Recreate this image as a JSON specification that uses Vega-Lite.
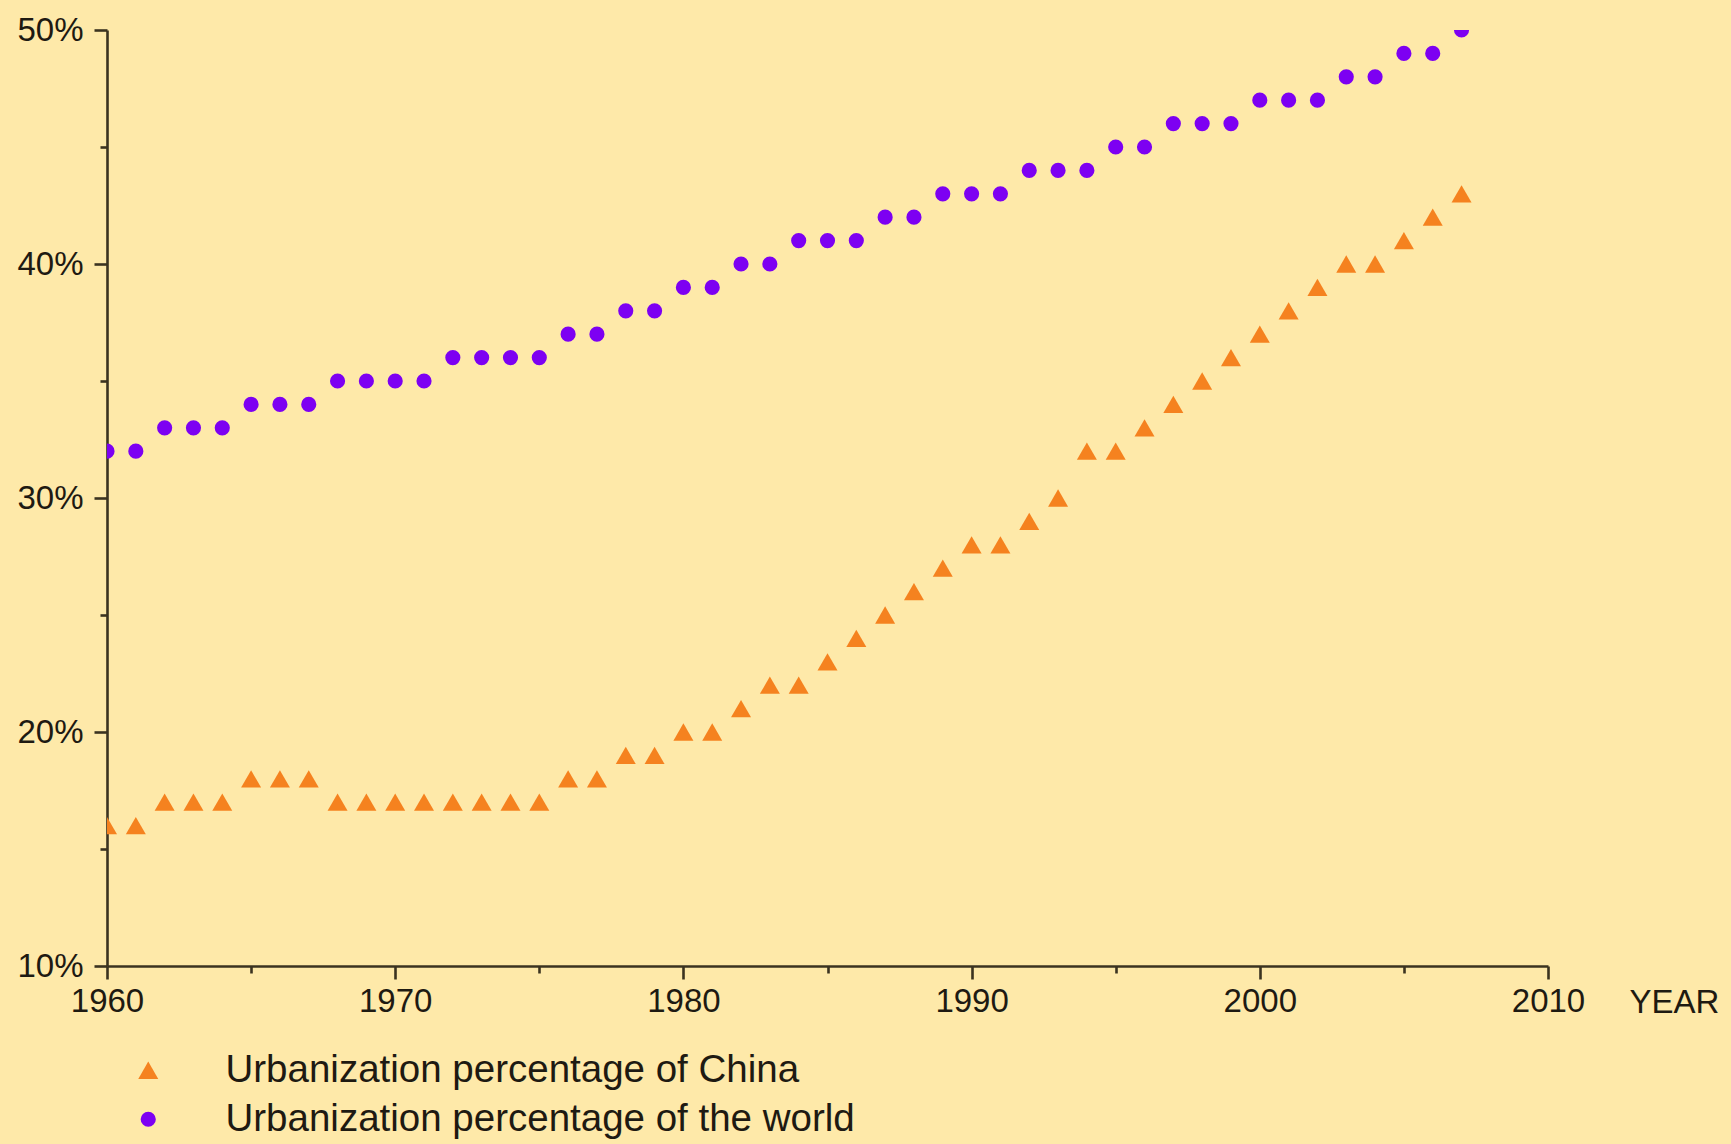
{
  "$schema": "https://vega.github.io/schema/vega-lite/v6.json",
  "width": 1441,
  "height": 936,
  "autosize": {"type": "none"},
  "padding": {"left": 107, "top": 30, "right": 183, "bottom": 178},
  "background": "#FEE9A9",
  "config": {
    "view": {"stroke": null, "fill": "#FEE9A9"},
    "font": "Liberation Sans",
    "axis": {
      "domainColor": "#3B3320",
      "domainWidth": 2.6,
      "tickColor": "#3B3320",
      "tickWidth": 2.6,
      "grid": false,
      "labelColor": "#1E1A12",
      "labelFontSize": 33,
      "labelFont": "Liberation Sans",
      "titleFont": "Liberation Sans"
    }
  },
  "data": {
    "values": [
      {"year": 1960, "series": "Urbanization percentage of China", "value": 16},
      {"year": 1961, "series": "Urbanization percentage of China", "value": 16},
      {"year": 1962, "series": "Urbanization percentage of China", "value": 17},
      {"year": 1963, "series": "Urbanization percentage of China", "value": 17},
      {"year": 1964, "series": "Urbanization percentage of China", "value": 17},
      {"year": 1965, "series": "Urbanization percentage of China", "value": 18},
      {"year": 1966, "series": "Urbanization percentage of China", "value": 18},
      {"year": 1967, "series": "Urbanization percentage of China", "value": 18},
      {"year": 1968, "series": "Urbanization percentage of China", "value": 17},
      {"year": 1969, "series": "Urbanization percentage of China", "value": 17},
      {"year": 1970, "series": "Urbanization percentage of China", "value": 17},
      {"year": 1971, "series": "Urbanization percentage of China", "value": 17},
      {"year": 1972, "series": "Urbanization percentage of China", "value": 17},
      {"year": 1973, "series": "Urbanization percentage of China", "value": 17},
      {"year": 1974, "series": "Urbanization percentage of China", "value": 17},
      {"year": 1975, "series": "Urbanization percentage of China", "value": 17},
      {"year": 1976, "series": "Urbanization percentage of China", "value": 18},
      {"year": 1977, "series": "Urbanization percentage of China", "value": 18},
      {"year": 1978, "series": "Urbanization percentage of China", "value": 19},
      {"year": 1979, "series": "Urbanization percentage of China", "value": 19},
      {"year": 1980, "series": "Urbanization percentage of China", "value": 20},
      {"year": 1981, "series": "Urbanization percentage of China", "value": 20},
      {"year": 1982, "series": "Urbanization percentage of China", "value": 21},
      {"year": 1983, "series": "Urbanization percentage of China", "value": 22},
      {"year": 1984, "series": "Urbanization percentage of China", "value": 22},
      {"year": 1985, "series": "Urbanization percentage of China", "value": 23},
      {"year": 1986, "series": "Urbanization percentage of China", "value": 24},
      {"year": 1987, "series": "Urbanization percentage of China", "value": 25},
      {"year": 1988, "series": "Urbanization percentage of China", "value": 26},
      {"year": 1989, "series": "Urbanization percentage of China", "value": 27},
      {"year": 1990, "series": "Urbanization percentage of China", "value": 28},
      {"year": 1991, "series": "Urbanization percentage of China", "value": 28},
      {"year": 1992, "series": "Urbanization percentage of China", "value": 29},
      {"year": 1993, "series": "Urbanization percentage of China", "value": 30},
      {"year": 1994, "series": "Urbanization percentage of China", "value": 32},
      {"year": 1995, "series": "Urbanization percentage of China", "value": 32},
      {"year": 1996, "series": "Urbanization percentage of China", "value": 33},
      {"year": 1997, "series": "Urbanization percentage of China", "value": 34},
      {"year": 1998, "series": "Urbanization percentage of China", "value": 35},
      {"year": 1999, "series": "Urbanization percentage of China", "value": 36},
      {"year": 2000, "series": "Urbanization percentage of China", "value": 37},
      {"year": 2001, "series": "Urbanization percentage of China", "value": 38},
      {"year": 2002, "series": "Urbanization percentage of China", "value": 39},
      {"year": 2003, "series": "Urbanization percentage of China", "value": 40},
      {"year": 2004, "series": "Urbanization percentage of China", "value": 40},
      {"year": 2005, "series": "Urbanization percentage of China", "value": 41},
      {"year": 2006, "series": "Urbanization percentage of China", "value": 42},
      {"year": 2007, "series": "Urbanization percentage of China", "value": 43},
      {"year": 1960, "series": "Urbanization percentage of the world", "value": 32},
      {"year": 1961, "series": "Urbanization percentage of the world", "value": 32},
      {"year": 1962, "series": "Urbanization percentage of the world", "value": 33},
      {"year": 1963, "series": "Urbanization percentage of the world", "value": 33},
      {"year": 1964, "series": "Urbanization percentage of the world", "value": 33},
      {"year": 1965, "series": "Urbanization percentage of the world", "value": 34},
      {"year": 1966, "series": "Urbanization percentage of the world", "value": 34},
      {"year": 1967, "series": "Urbanization percentage of the world", "value": 34},
      {"year": 1968, "series": "Urbanization percentage of the world", "value": 35},
      {"year": 1969, "series": "Urbanization percentage of the world", "value": 35},
      {"year": 1970, "series": "Urbanization percentage of the world", "value": 35},
      {"year": 1971, "series": "Urbanization percentage of the world", "value": 35},
      {"year": 1972, "series": "Urbanization percentage of the world", "value": 36},
      {"year": 1973, "series": "Urbanization percentage of the world", "value": 36},
      {"year": 1974, "series": "Urbanization percentage of the world", "value": 36},
      {"year": 1975, "series": "Urbanization percentage of the world", "value": 36},
      {"year": 1976, "series": "Urbanization percentage of the world", "value": 37},
      {"year": 1977, "series": "Urbanization percentage of the world", "value": 37},
      {"year": 1978, "series": "Urbanization percentage of the world", "value": 38},
      {"year": 1979, "series": "Urbanization percentage of the world", "value": 38},
      {"year": 1980, "series": "Urbanization percentage of the world", "value": 39},
      {"year": 1981, "series": "Urbanization percentage of the world", "value": 39},
      {"year": 1982, "series": "Urbanization percentage of the world", "value": 40},
      {"year": 1983, "series": "Urbanization percentage of the world", "value": 40},
      {"year": 1984, "series": "Urbanization percentage of the world", "value": 41},
      {"year": 1985, "series": "Urbanization percentage of the world", "value": 41},
      {"year": 1986, "series": "Urbanization percentage of the world", "value": 41},
      {"year": 1987, "series": "Urbanization percentage of the world", "value": 42},
      {"year": 1988, "series": "Urbanization percentage of the world", "value": 42},
      {"year": 1989, "series": "Urbanization percentage of the world", "value": 43},
      {"year": 1990, "series": "Urbanization percentage of the world", "value": 43},
      {"year": 1991, "series": "Urbanization percentage of the world", "value": 43},
      {"year": 1992, "series": "Urbanization percentage of the world", "value": 44},
      {"year": 1993, "series": "Urbanization percentage of the world", "value": 44},
      {"year": 1994, "series": "Urbanization percentage of the world", "value": 44},
      {"year": 1995, "series": "Urbanization percentage of the world", "value": 45},
      {"year": 1996, "series": "Urbanization percentage of the world", "value": 45},
      {"year": 1997, "series": "Urbanization percentage of the world", "value": 46},
      {"year": 1998, "series": "Urbanization percentage of the world", "value": 46},
      {"year": 1999, "series": "Urbanization percentage of the world", "value": 46},
      {"year": 2000, "series": "Urbanization percentage of the world", "value": 47},
      {"year": 2001, "series": "Urbanization percentage of the world", "value": 47},
      {"year": 2002, "series": "Urbanization percentage of the world", "value": 47},
      {"year": 2003, "series": "Urbanization percentage of the world", "value": 48},
      {"year": 2004, "series": "Urbanization percentage of the world", "value": 48},
      {"year": 2005, "series": "Urbanization percentage of the world", "value": 49},
      {"year": 2006, "series": "Urbanization percentage of the world", "value": 49},
      {"year": 2007, "series": "Urbanization percentage of the world", "value": 50}
    ]
  },
  "resolve": {"axis": {"x": "independent", "y": "independent"}},
  "layer": [
    {
      "mark": {"type": "point", "filled": true, "opacity": 1, "clip": true},
      "encoding": {
        "x": {
          "field": "year", "type": "quantitative",
          "scale": {"domain": [1960, 2010], "nice": false, "zero": false},
          "axis": {
            "orient": "bottom",
            "values": [1960, 1970, 1980, 1990, 2000, 2010],
            "format": "d",
            "tickSize": 13,
            "labelPadding": 6,
            "labelFlush": false,
            "title": "YEAR",
            "titleFontSize": 33,
            "titleFontWeight": "normal",
            "titleColor": "#1E1A12",
            "titleX": 1567,
            "titleY": 36,
            "titleAlign": "center",
            "titleBaseline": "middle"
          }
        },
        "y": {
          "field": "value", "type": "quantitative",
          "scale": {"domain": [10, 50], "nice": false, "zero": false},
          "axis": {
            "orient": "left",
            "values": [10, 20, 30, 40, 50],
            "labelExpr": "datum.value + '%'",
            "tickSize": 13,
            "labelPadding": 11,
            "labelFlush": false,
            "title": null
          }
        },
        "color": {
          "field": "series", "type": "nominal",
          "scale": {
            "domain": ["Urbanization percentage of China", "Urbanization percentage of the world"],
            "range": ["#F5821F", "#7D00F2"]
          },
          "legend": {
            "title": null,
            "orient": "none",
            "legendX": 22,
            "legendY": 1021,
            "padding": 0,
            "labelFontSize": 38.5,
            "labelColor": "#1E1A12",
            "labelFont": "Liberation Sans",
            "labelOffset": 58,
            "rowPadding": 10,
            "symbolSize": 230,
            "symbolStrokeWidth": 0,
            "labelLimit": 1000
          }
        },
        "shape": {
          "field": "series", "type": "nominal",
          "scale": {
            "domain": ["Urbanization percentage of China", "Urbanization percentage of the world"],
            "range": ["triangle-up", "circle"]
          }
        },
        "size": {
          "field": "series", "type": "nominal",
          "scale": {
            "domain": ["Urbanization percentage of China", "Urbanization percentage of the world"],
            "range": [400, 230]
          },
          "legend": null
        }
      }
    },
    {
      "mark": {"type": "point", "opacity": 0},
      "encoding": {
        "x": {
          "field": "year", "type": "quantitative",
          "axis": {
            "orient": "bottom",
            "values": [1965, 1975, 1985, 1995, 2005],
            "tickSize": 7,
            "labels": false,
            "domain": false,
            "title": null
          }
        },
        "y": {
          "field": "value", "type": "quantitative",
          "axis": {
            "orient": "left",
            "values": [15, 25, 35, 45],
            "tickSize": 7,
            "labels": false,
            "domain": false,
            "title": null
          }
        }
      }
    }
  ]
}
